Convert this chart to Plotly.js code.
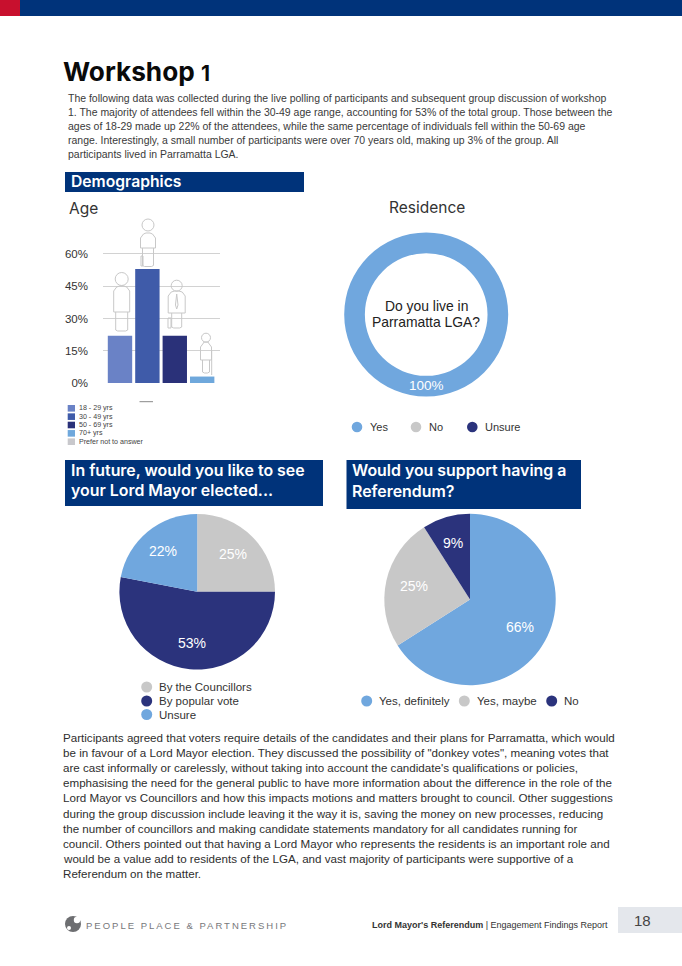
<!DOCTYPE html>
<html><head><meta charset="utf-8">
<script src="https://cdn.plot.ly/plotly-3.0.1.min.js"></script>
<style>
html,body{margin:0;padding:0;background:#fff;overflow:hidden}
#c{width:682px;height:966px}
.spaced text{letter-spacing:2px}
</style></head><body><div id="c"></div>
<script>
// ---- data ----
const ageCats = ['18 - 29 yrs','30 - 49 yrs','50 - 69 yrs','70+ yrs'];
const ageVals = [22,53,22,3];
const ageColors = ['#6a82c6','#3f5ba9','#2a3179','#6fa8dc'];
const ageLegend = ['18 - 29 yrs','30 - 49 yrs','50 - 69 yrs','70+ yrs','Prefer not to answer'];
const ageLegendColors = ['#6a82c6','#3f5ba9','#2a3179','#6fa8dc','#c8c8cc'];
const ageTicks = [0,15,30,45,60];
const ageTickText = ['0%','15%','30%','45%','60%'];

const resLabels = ['Yes','No','Unsure'];
const resVals = [100,0,0];
const electLabels = ['By the Councillors','By popular vote','Unsure'];
const electVals = [25,53,22];
const refLabels = ['Yes, definitely','Yes, maybe','No'];
const refVals = [66,25,9];
const BLUE='#70a7de', GREY='#c8c8c8', NAVY='#2b337c', HEAD='#00337a';

const intro = [
'The following data was collected during the live polling of participants and subsequent group discussion of workshop',
'1. The majority of attendees fell within the 30-49 age range, accounting for 53% of the total group. Those between the',
'ages of 18-29 made up 22% of the attendees, while the same percentage of individuals fell within the 50-69 age',
'range. Interestingly, a small number of participants were over 70 years old, making up 3% of the group. All',
'participants lived in Parramatta LGA.'];
const outro = [
'Participants agreed that voters require details of the candidates and their plans for Parramatta, which would',
'be in favour of a Lord Mayor election. They discussed the possibility of "donkey votes", meaning votes that',
'are cast informally or carelessly, without taking into account the candidate\'s qualifications or policies,',
'emphasising the need for the general public to have more information about the difference in the role of the',
'Lord Mayor vs Councillors and how this impacts motions and matters brought to council. Other suggestions',
'during the group discussion include leaving it the way it is, saving the money on new processes, reducing',
'the number of councillors and making candidate statements mandatory for all candidates running for',
'council. Others pointed out that having a Lord Mayor who represents the residents is an important role and',
'would be a value add to residents of the LGA, and vast majority of participants were supportive of a',
'Referendum on the matter.'];

// ---- page helpers ----
const W=682,H=966;
const X=p=>p/W, Y=p=>1-p/H;
const SANS='"Liberation Sans",Arial,sans-serif', DISP='Inter,"Open Sans",sans-serif';
const ann=[], shp=[];
function txt(t,x,y,size,color,o={}){
  const c=o.extra&&o.extra.xanchor==='center';
  ann.push(Object.assign({text:t,x:X(c?x:x-1.2),y:Y(y),xref:'paper',yref:'paper',showarrow:false,
    xanchor:'left',yanchor:'middle',borderpad:0,
    font:{family:o.family||SANS,size,color,weight:o.weight||400}},o.extra||{}));
}
function rect(x0,y0,x1,y1,c){shp.push({type:'rect',xref:'paper',yref:'paper',x0:X(x0),x1:X(x1),y0:Y(y0),y1:Y(y1),fillcolor:c,line:{width:0},layer:'below'});}
function dot(x,y,r,c){shp.push({type:'circle',xref:'paper',yref:'paper',x0:X(x-r),x1:X(x+r),y0:Y(y-r),y1:Y(y+r),fillcolor:c,line:{width:0}});}
function ring(x,y,r){shp.push({type:'circle',xref:'paper',yref:'paper',x0:X(x-r),x1:X(x+r),y0:Y(y-r),y1:Y(y+r),line:{width:1,color:'#c8c8c8'}});}
function path(pts,close,color){
  const d=pts.map((p,i)=>(i?'L':'M')+X(p[0]).toFixed(5)+','+Y(p[1]).toFixed(5)).join(' ')+(close?' Z':'');
  shp.push({type:'path',xref:'paper',yref:'paper',path:d,line:{width:1,color:color||'#c8c8c8'}});
}
function person(cx,headY,hr,bodyHalf,shoulderY,waistY,legHalf,footY){
  ring(cx,headY,hr);
  path([[cx-bodyHalf,waistY],[cx-bodyHalf,shoulderY+5],[cx-bodyHalf+3,shoulderY+1],[cx-2,shoulderY],[cx+2,shoulderY],[cx+bodyHalf-3,shoulderY+1],[cx+bodyHalf,shoulderY+5],[cx+bodyHalf,waistY]],true);
  path([[cx-legHalf,waistY],[cx-legHalf,footY-1],[cx-legHalf+2,footY],[cx+legHalf-2,footY],[cx+legHalf,footY-1],[cx+legHalf,waistY]]);
}

// ---- page furniture ----
rect(0,0,682,16,HEAD); rect(0,0,20,16,'#c8102e');
rect(65,172,304,192,HEAD);
rect(65,460,323,506,HEAD);
rect(346.5,460,581,509,HEAD);
rect(618,907,682,933,'#e4e7ec');

txt('Workshop <span style="font-size:21px">1</span>',63.5,71,26.2,'#0a0a0a',{family:DISP,weight:700});
intro.forEach((l,i)=>txt(l,68,98.7+14*i,10.47,'#3a3a3a'));
txt('Demographics',71,181.5,15.7,'#fff',{family:DISP,weight:600});
txt('Age',69,208,15.5,'#333',{family:DISP});
txt('Residence',389,207.5,15.5,'#333',{family:DISP});
txt('In future, would you like to see',71,470,15.9,'#fff',{family:DISP,weight:600});
txt('your Lord Mayor elected...',71,490,15.9,'#fff',{family:DISP,weight:600});
txt('Would you support having a',352,470,15.9,'#fff',{family:DISP,weight:600});
txt('Referendum?',352,491,15.9,'#fff',{family:DISP,weight:600});
outro.forEach((l,i)=>txt(l,63,737+15.2*i,11.62,'#2e2e2e'));

// footer
txt('PEOPLE PLACE &amp; PARTNERSHIP',186.5,925,9.5,'#77787b',{extra:{xanchor:'center'}});
dot(73,924,8,'#6d6e71'); dot(77,920,3.2,'#fff'); dot(69,928,2,'#fff');
txt("<b>Lord Mayor's Referendum</b> | Engagement Findings Report",372,925,9,'#333');
txt('18',634,920.7,15,'#444');

// Age legend
ageLegend.forEach((l,i)=>{
  const y=408.3+8.35*i;
  rect(67.7,y-3.3,75,y+3.3,ageLegendColors[i]);
  txt(l,79,y,7.1,'#444');
});
path([[139.5,401.7],[153,401.7]],false,'#888');

// pictograms
person(121.7,279,6.5,8,286,312,6,331);
person(148,225,6,7.5,233,248,5.5,266.5);
person(176.7,285.7,5.5,8.5,291,313,5,328);
person(206,337.7,4.5,5.5,342,360,3.5,373);
path([[176.7,294],[175.5,305],[176.7,309],[178,305]],true);
path([[168,318],[171,318],[171,328],[168,328]],true);
path([[143,256],[141,256],[141,266],[143,266]],true);
path([[211.7,350],[211.7,375]]);

// residence
txt('Do you live in',426.2,306,13.9,'#222',{extra:{xanchor:'center'}});
txt('Parramatta LGA?',426.2,322.3,13.9,'#222',{extra:{xanchor:'center'}});
txt(resVals[0]+'%',426.2,385,13.5,'#fff',{extra:{xanchor:'center'}});
[[357,370,BLUE],[416,429,GREY],[472.3,485,NAVY]].forEach((p,i)=>{
  dot(p[0],427,5.3,p[2]); txt(resLabels[i],p[1],427,11,'#333');
});
// election legend + slice labels
[[687,GREY],[701,NAVY],[714.5,BLUE]].forEach((p,i)=>{
  dot(146.7,p[0],5.5,p[1]); txt(electLabels[i],159.3,p[0],11.5,'#333');
});
[[232.7,554],[191.7,643],[163,551]].forEach((p,i)=>
  txt(electVals[i]+'%',p[0],p[1],14,'#fff',{extra:{xanchor:'center'}}));
// referendum legend + slice labels
[[366.7,379.3,BLUE],[464.3,477,GREY],[551.7,564,NAVY]].forEach((p,i)=>{
  dot(p[0],701,5.5,p[2]); txt(refLabels[i],p[1],701,11.5,'#333');
});
[[520,626.7],[413.7,586],[453,543.3]].forEach((p,i)=>
  txt(refVals[i]+'%',p[0],p[1],14,'#fff',{extra:{xanchor:'center'}}));

function dom(cx,cy,r){return {x:[X(cx-r),X(cx+r)],y:[Y(cy+r),Y(cy-r)]};}
const pieBase={type:'pie',sort:false,direction:'clockwise',rotation:0,showlegend:false,hoverinfo:'skip',textinfo:'none'};
const data=[
 {type:'bar',x:ageCats,y:ageVals,marker:{color:ageColors,line:{width:0}},hoverinfo:'skip',showlegend:false},
 Object.assign({},pieBase,{labels:resLabels,values:resVals,hole:0.748,domain:dom(426.2,314.5,82),marker:{colors:[BLUE,GREY,NAVY],line:{width:0}}}),
 Object.assign({},pieBase,{labels:electLabels,values:electVals,domain:dom(197.2,591.7,77.8),marker:{colors:[GREY,NAVY,BLUE],line:{width:0}}}),
 Object.assign({},pieBase,{labels:refLabels,values:refVals,domain:dom(470,599.5,85.7),marker:{colors:[BLUE,GREY,NAVY],line:{width:0}}})
];
const layout={width:W,height:H,margin:{l:0,r:0,t:0,b:0},paper_bgcolor:'#fff',plot_bgcolor:'rgba(0,0,0,0)',
  showlegend:false,bargap:0.11,
  xaxis:{domain:[X(103),X(220)],range:[-0.62,3.65],showticklabels:false,showgrid:false,zeroline:false,showline:false,ticks:'',fixedrange:true},
  yaxis:{domain:[Y(383),Y(252.9)],range:[0,60.5],tickvals:ageTicks,ticktext:ageTickText,showgrid:true,gridcolor:'#d2d2d2',gridwidth:1,
    zeroline:false,showline:false,ticks:'',ticklabelstandoff:14,fixedrange:true,
    tickfont:{family:SANS,size:11.5,color:'#333'}},
  annotations:ann,shapes:shp};
Plotly.newPlot('c',data,layout,{staticPlot:true,displayModeBar:false}).then(()=>{
  document.querySelectorAll('.annotation').forEach(a=>{
    if(a.textContent.indexOf('PEOPLE')===0) a.classList.add('spaced');
  });
});
</script></body></html>
